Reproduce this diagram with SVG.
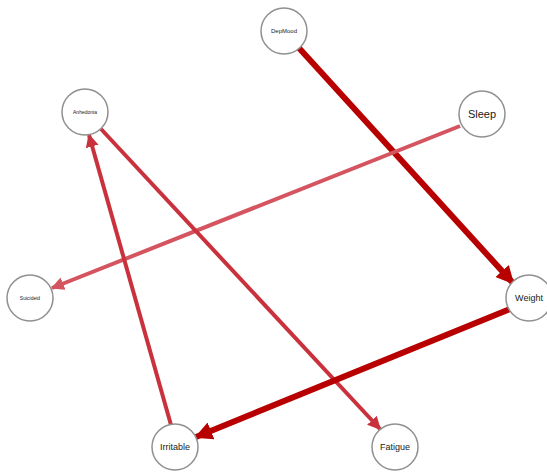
<svg xmlns="http://www.w3.org/2000/svg" width="547" height="472" viewBox="0 0 547 472">
<style>
.node circle{fill:#fff;stroke:#909090;stroke-width:1.5}
.node text{font-family:"Liberation Sans",Arial,sans-serif;fill:#1a1a1a;text-anchor:middle;dominant-baseline:central}
.e{fill:none;stroke-linecap:butt}
</style>
<defs>
<marker id="aDark" viewBox="0 0 10 10" refX="9" refY="5" markerWidth="3" markerHeight="3" orient="auto" markerUnits="strokeWidth"><path d="M0,0 L10,5 L0,10 z" fill="#b80000"/></marker>
<marker id="aMid" viewBox="0 0 10 10" refX="9" refY="5" markerWidth="3.3" markerHeight="3.3" orient="auto" markerUnits="strokeWidth"><path d="M0,0 L10,5 L0,10 z" fill="#c9323c"/></marker>
<marker id="aLight" viewBox="0 0 10 10" refX="9" refY="5" markerWidth="3.3" markerHeight="3.3" orient="auto" markerUnits="strokeWidth"><path d="M0,0 L10,5 L0,10 z" fill="#d45560"/></marker>
</defs>
<rect width="547" height="472" fill="#fff"/>
<g id="connectors">
<line class="e" x1="299" y1="48" x2="513" y2="283" stroke="#b80000" stroke-width="6" marker-end="url(#aDark)"/>
<line class="e" x1="460" y1="126" x2="52" y2="288" stroke="#d45560" stroke-width="4" marker-end="url(#aLight)"/>
<line class="e" x1="101" y1="129" x2="380" y2="429" stroke="#c9323c" stroke-width="4" marker-end="url(#aMid)"/>
<line class="e" x1="171" y1="425" x2="89" y2="135" stroke="#c9323c" stroke-width="4" marker-end="url(#aMid)"/>
<line class="e" x1="510" y1="309" x2="196" y2="437" stroke="#b80000" stroke-width="6" marker-end="url(#aDark)"/>
</g>
<g id="DepMood" class="node"><circle cx="284" cy="31" r="23"/><text x="284" y="31" font-size="6">DepMood</text></g>
<g id="Anhedonia" class="node"><circle cx="85" cy="112" r="23"/><text x="85" y="112" font-size="5">Anhedonia</text></g>
<g id="Sleep" class="node"><circle cx="482" cy="114" r="23"/><text x="482" y="114" font-size="11">Sleep</text></g>
<g id="Suicideid" class="node"><circle cx="30" cy="298" r="23"/><text x="30" y="298" font-size="5">Suicideid</text></g>
<g id="Weight" class="node"><circle cx="529" cy="298" r="23"/><text x="529" y="298" font-size="9">Weight</text></g>
<g id="Irritable" class="node"><circle cx="175" cy="447" r="23"/><text x="175" y="447" font-size="9">Irritable</text></g>
<g id="Fatigue" class="node"><circle cx="395" cy="447" r="23"/><text x="395" y="447" font-size="9">Fatigue</text></g>
</svg>
